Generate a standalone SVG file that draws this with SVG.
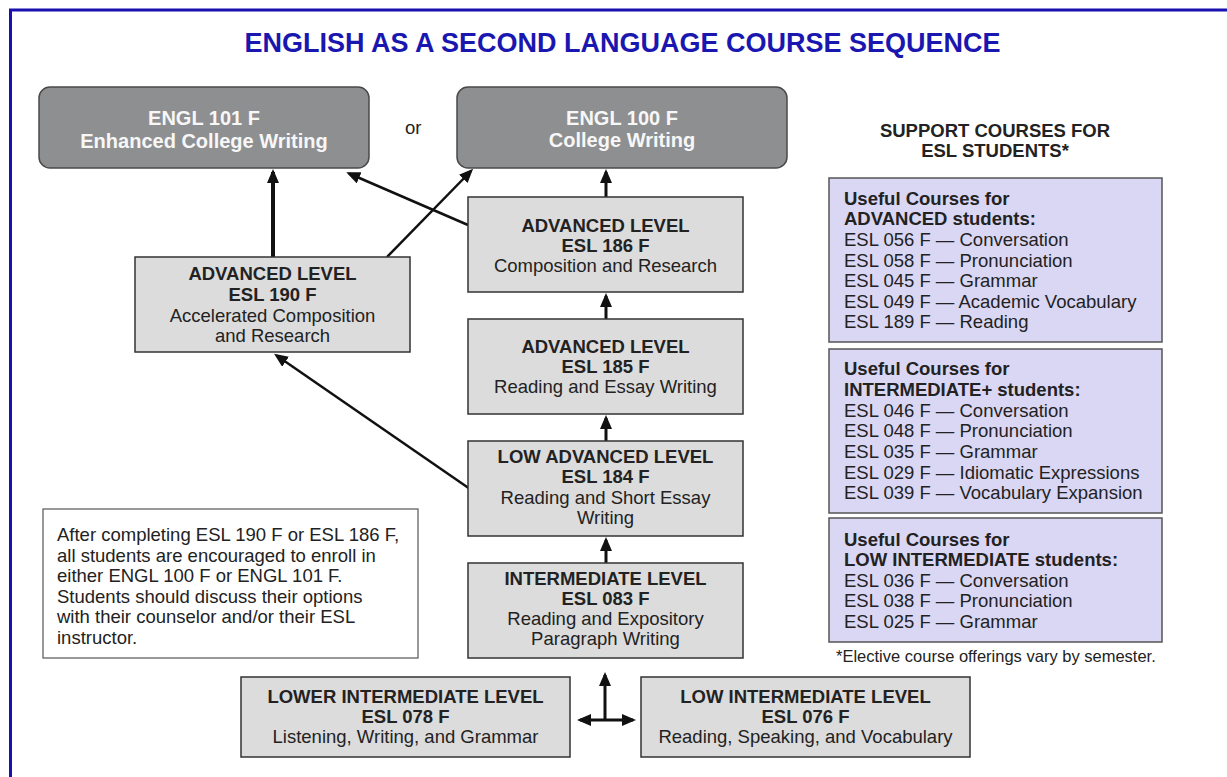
<svg xmlns="http://www.w3.org/2000/svg" width="1227" height="777" viewBox="0 0 1227 777">
<style>
text{font-family:"Liberation Sans",Arial,sans-serif;fill:#222;}
.t{font-size:27px;font-weight:bold;fill:#1a17b0;text-anchor:middle;}
.eb{fill:#8e8f91;stroke:#4a4a4a;stroke-width:1.5;}
.et{font-size:20px;font-weight:bold;fill:#f7f7f7;text-anchor:middle;}
.gb{fill:#dcdcdc;stroke:#333;stroke-width:1.5;}
.pb{fill:#dad7f4;stroke:#555;stroke-width:1.5;}
.nb{fill:#fff;stroke:#555;stroke-width:1.2;}
.c{font-size:18.5px;text-anchor:middle;}
.b{font-weight:bold;}
.l{font-size:18.5px;}
.h{font-size:18.5px;font-weight:bold;text-anchor:middle;}
.f{font-size:16.5px;}
.a{stroke:#111;fill:none;}
</style>
<defs>
<marker id="ah" markerUnits="userSpaceOnUse" markerWidth="16" markerHeight="14" refX="11" refY="6" orient="auto-start-reverse" viewBox="0 0 16 14">
<path d="M0,0 L14,6 L0,12 z" fill="#111"/>
</marker>
</defs>
<g id="frame">
<line x1="9" y1="10" x2="1227" y2="10" stroke="#1a0fb0" stroke-width="3"/>
<line x1="10.5" y1="9" x2="10.5" y2="777" stroke="#1a0fb0" stroke-width="3"/>
</g>
<text class="t" x="622.5" y="52">ENGLISH AS A SECOND LANGUAGE COURSE SEQUENCE</text>
<g id="connectors">
<line class="a" x1="273" y1="257" x2="273" y2="172" stroke-width="4" marker-end="url(#ah)"/>
<line class="a" x1="387" y1="257" x2="471" y2="171" stroke-width="2.5" marker-end="url(#ah)"/>
<line class="a" x1="468" y1="225" x2="349" y2="173.5" stroke-width="2.5" marker-end="url(#ah)"/>
<line class="a" x1="606" y1="197" x2="606" y2="172" stroke-width="3" marker-end="url(#ah)"/>
<line class="a" x1="606" y1="319" x2="606" y2="296" stroke-width="3" marker-end="url(#ah)"/>
<line class="a" x1="606" y1="441" x2="606" y2="418" stroke-width="3" marker-end="url(#ah)"/>
<line class="a" x1="606" y1="563" x2="606" y2="540" stroke-width="3" marker-end="url(#ah)"/>
<line class="a" x1="470" y1="489" x2="276.5" y2="355.5" stroke-width="2.5" marker-end="url(#ah)"/>
<line class="a" x1="605" y1="720" x2="605" y2="675" stroke-width="3" marker-end="url(#ah)"/>
<line class="a" x1="580" y1="720" x2="633" y2="720" stroke-width="3" marker-start="url(#ah)" marker-end="url(#ah)"/>
</g>
<g id="engl101">
<rect class="eb" x="39" y="87" width="330" height="81" rx="11"/>
<text class="et" x="204" y="125">ENGL 101 F</text>
<text class="et" x="204" y="148">Enhanced College Writing</text>
</g>
<text class="l" x="405" y="134" fill="#333">or</text>
<g id="engl100">
<rect class="eb" x="457" y="87" width="330" height="81" rx="11"/>
<text class="et" x="622" y="125">ENGL 100 F</text>
<text class="et" x="622" y="147">College Writing</text>
</g>
<g id="esl186">
<rect class="gb" x="468" y="197" width="275" height="95"/>
<text class="c b" x="605.5" y="232">ADVANCED LEVEL</text>
<text class="c b" x="605.5" y="252">ESL 186 F</text>
<text class="c" x="605.5" y="272">Composition and Research</text>
</g>
<g id="esl190">
<rect class="gb" x="135" y="257" width="275" height="95"/>
<text class="c b" x="272.5" y="280">ADVANCED LEVEL</text>
<text class="c b" x="272.5" y="301">ESL 190 F</text>
<text class="c" x="272.5" y="322">Accelerated Composition</text>
<text class="c" x="272.5" y="342">and Research</text>
</g>
<g id="esl185">
<rect class="gb" x="468" y="319" width="275" height="95"/>
<text class="c b" x="605.5" y="353">ADVANCED LEVEL</text>
<text class="c b" x="605.5" y="373">ESL 185 F</text>
<text class="c" x="605.5" y="393">Reading and Essay Writing</text>
</g>
<g id="esl184">
<rect class="gb" x="468" y="441" width="275" height="95"/>
<text class="c b" x="605.5" y="463">LOW ADVANCED LEVEL</text>
<text class="c b" x="605.5" y="483">ESL 184 F</text>
<text class="c" x="605.5" y="504">Reading and Short Essay</text>
<text class="c" x="605.5" y="524">Writing</text>
</g>
<g id="esl083">
<rect class="gb" x="468" y="563" width="275" height="95"/>
<text class="c b" x="605.5" y="585">INTERMEDIATE LEVEL</text>
<text class="c b" x="605.5" y="605">ESL 083 F</text>
<text class="c" x="605.5" y="625">Reading and Expository</text>
<text class="c" x="605.5" y="645">Paragraph Writing</text>
</g>
<g id="esl078">
<rect class="gb" x="241" y="677" width="329" height="80"/>
<text class="c b" x="405.5" y="703">LOWER INTERMEDIATE LEVEL</text>
<text class="c b" x="405.5" y="723">ESL 078 F</text>
<text class="c" x="405.5" y="743">Listening, Writing, and Grammar</text>
</g>
<g id="esl076">
<rect class="gb" x="641" y="677" width="329" height="80"/>
<text class="c b" x="805.5" y="703">LOW INTERMEDIATE LEVEL</text>
<text class="c b" x="805.5" y="723">ESL 076 F</text>
<text class="c" x="805.5" y="743">Reading, Speaking, and Vocabulary</text>
</g>
<g id="note">
<rect class="nb" x="43" y="509" width="375" height="149"/>
<text class="l" x="57" y="541">After completing ESL 190 F or ESL 186 F,</text>
<text class="l" x="57" y="562">all students are encouraged to enroll in</text>
<text class="l" x="57" y="582">either ENGL 100 F or ENGL 101 F.</text>
<text class="l" x="57" y="603">Students should discuss their options</text>
<text class="l" x="57" y="623">with their counselor and/or their ESL</text>
<text class="l" x="57" y="644">instructor.</text>
</g>
<g id="support-header">
<text class="h" x="995" y="137">SUPPORT COURSES FOR</text>
<text class="h" x="995" y="157">ESL STUDENTS*</text>
</g>
<g id="support-advanced">
<rect class="pb" x="829" y="178" width="333" height="164"/>
<text class="l b" x="844" y="205">Useful Courses for</text>
<text class="l b" x="844" y="225">ADVANCED students:</text>
<text class="l" x="844" y="246">ESL 056 F — Conversation</text>
<text class="l" x="844" y="267">ESL 058 F — Pronunciation</text>
<text class="l" x="844" y="287">ESL 045 F — Grammar</text>
<text class="l" x="844" y="308">ESL 049 F — Academic Vocabulary</text>
<text class="l" x="844" y="328">ESL 189 F — Reading</text>
</g>
<g id="support-intermediate">
<rect class="pb" x="829" y="349" width="333" height="164"/>
<text class="l b" x="844" y="375">Useful Courses for</text>
<text class="l b" x="844" y="396">INTERMEDIATE+ students:</text>
<text class="l" x="844" y="417">ESL 046 F — Conversation</text>
<text class="l" x="844" y="437">ESL 048 F — Pronunciation</text>
<text class="l" x="844" y="458">ESL 035 F — Grammar</text>
<text class="l" x="844" y="479">ESL 029 F — Idiomatic Expressions</text>
<text class="l" x="844" y="499">ESL 039 F — Vocabulary Expansion</text>
</g>
<g id="support-low">
<rect class="pb" x="829" y="518" width="333" height="124"/>
<text class="l b" x="844" y="546">Useful Courses for</text>
<text class="l b" x="844" y="566">LOW INTERMEDIATE students:</text>
<text class="l" x="844" y="587">ESL 036 F — Conversation</text>
<text class="l" x="844" y="607">ESL 038 F — Pronunciation</text>
<text class="l" x="844" y="628">ESL 025 F — Grammar</text>
</g>
<text class="f" x="836" y="662">*Elective course offerings vary by semester.</text>
</svg>
